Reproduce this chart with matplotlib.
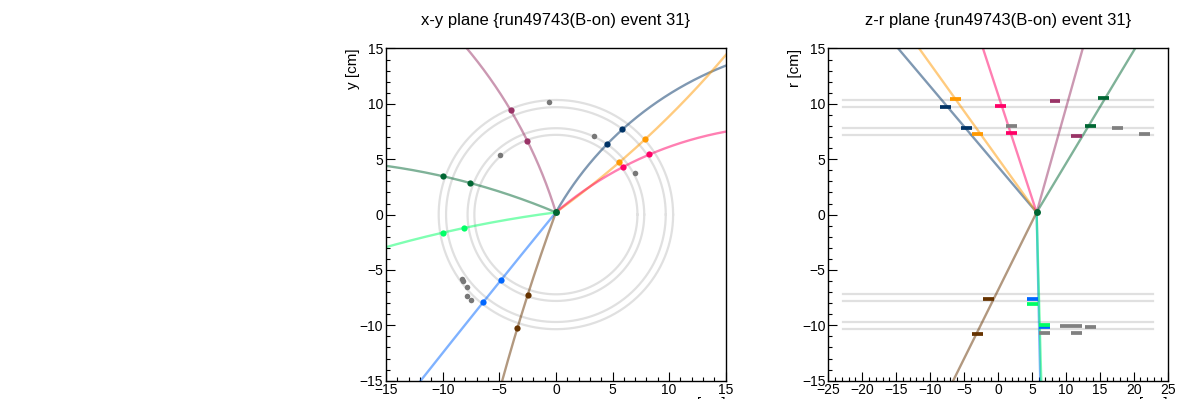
import numpy as np
import matplotlib
matplotlib.use("Agg")
import matplotlib.pyplot as plt

plt.rcParams['font.family'] = ['Liberation Sans', 'DejaVu Sans']

# Event info
title_xy = "x-y plane {run49743(B-on) event 31}"
title_zr = "z-r plane {run49743(B-on) event 31}"

# Primary vertex
vtx_x, vtx_y = 0.0, 0.2
vtx_z, vtx_r = 5.7, 0.2

# Detector layer radii [cm] and half length in z
layer_r = [7.2, 7.8, 9.7, 10.35]
layer_halfz = 22.8

# Tracks: colour, x-y helix (initial angle deg, curvature 1/cm), z-r slope dz/dr
track_color = ['#003366', '#ff9900', '#ff0066', '#993366',
               '#006633', '#0066ff', '#00ff66', '#663300']
track_phi0 = [61.1, 36.5, 41.2, 106.7, 156.8, 231.4, 187.6, 250.4]
track_curv = [-0.0336, 0.0117, -0.0316, 0.0233, 0.0169, 0.0008, 0.0096, 0.0050]
track_dzdr = [-1.378, -1.169, -0.534, 0.459, 0.98, -0.035, -0.045, 0.809]
track_side = [1, 1, 1, 1, 1, -1, -1, -1]

# Associated hits in x-y
hit_x = [[4.52, 5.87], [5.61, 7.88], [5.96, 8.20], [-2.52, -3.93],
         [-7.55, -9.94], [-4.87, -6.40], [-8.08, -9.94], [-2.48, -3.40]]
hit_y = [[6.37, 7.70], [4.72, 6.80], [4.32, 5.44], [6.67, 9.44],
         [2.85, 3.46], [-5.95, -7.92], [-1.21, -1.63], [-7.23, -10.23]]

# Associated hits in z-r
hit_z = [[-7.7, -4.6], [-6.2, -3.0], [0.44, 2.0], [8.4, 11.6],
         [15.6, 13.65], [5.15, 6.9], [5.15, 6.9], [-1.43, -3.0]]
hit_r = [[9.72, 7.86], [10.47, 7.31], [9.84, 7.40], [10.24, 7.10],
         [10.5, 8.04], [-7.63, -10.19], [-8.12, -9.95], [-7.63, -10.76]]

# Unassociated hits
noise_x = [-0.63, 3.35, -4.93, 7.02, -8.29, -8.17, -7.82, -7.87, -7.49]
noise_y = [10.16, 7.07, 5.35, 3.75, -5.84, -6.02, -6.53, -7.37, -7.73]
noise_z = [2.0, 17.6, 21.65, 6.9, 10.0, 11.6, 13.65, 11.6]
noise_r = [8.0, 7.86, 7.26, -10.7, -10.04, -10.04, -10.16, -10.7]

fig = plt.figure(figsize=(11.78, 3.99), dpi=100)
ax1 = fig.add_axes([0.3277, 0.0459, 0.2884, 0.8326])
ax2 = fig.add_axes([0.7031, 0.0459, 0.2881, 0.8326])

# ---- x-y plane ----
t = np.linspace(0, 2 * np.pi, 400)
for rr in layer_r:
    ax1.plot(rr * np.cos(t), rr * np.sin(t), color='#e0e0e0', lw=1.6, zorder=1)

s = np.linspace(0, 25, 500)
for c, p0, k in zip(track_color, track_phi0, track_curv):
    phi = np.radians(p0)
    x = vtx_x + (np.sin(phi + k * s) - np.sin(phi)) / k
    y = vtx_y - (np.cos(phi + k * s) - np.cos(phi)) / k
    ax1.plot(x, y, color=c, alpha=0.5, lw=1.7, zorder=2)

ax1.plot(noise_x, noise_y, 'o', color='#777777', ms=4, mec='none', zorder=3)
for c, hx, hy in zip(track_color, hit_x, hit_y):
    ax1.plot(hx, hy, 'o', color=c, ms=4.5, mec='none', zorder=4)
ax1.plot(vtx_x, vtx_y, 'o', color='#006633', ms=5, mec='none', zorder=5)

ax1.set_xlim(-15, 15)
ax1.set_ylim(-15, 15)

# ---- z-r plane ----
for rr in layer_r:
    for sgn in (1, -1):
        ax2.plot([-layer_halfz, layer_halfz], [sgn * rr, sgn * rr],
                 color='#e0e0e0', lw=1.6, zorder=1)

for c, m, side in zip(track_color, track_dzdr, track_side):
    r_end = side * 16
    z_end = vtx_z + m * (r_end - vtx_r)
    ax2.plot([vtx_z, z_end], [vtx_r, r_end], color=c, alpha=0.5, lw=1.7, zorder=2)

hw = 0.8
for zz, rr in zip(noise_z, noise_r):
    ax2.plot([zz - hw, zz + hw], [rr, rr], color='#808080', lw=2.7,
             solid_capstyle='butt', zorder=3)
for c, hz, hr in zip(track_color, hit_z, hit_r):
    for zz, rr in zip(hz, hr):
        ax2.plot([zz - hw, zz + hw], [rr, rr], color=c, lw=2.7,
                 solid_capstyle='butt', zorder=4)
ax2.plot(vtx_z, vtx_r, 'o', color='#006633', ms=5, mec='none', zorder=5)

ax2.set_xlim(-25, 25)
ax2.set_ylim(-15, 15)

# ROOT-like frame style
for ax, title, xl, yl in [(ax1, title_xy, 'x [cm]', 'y [cm]'),
                          (ax2, title_zr, 'z [cm]', 'r [cm]')]:
    ax.set_xticks(np.arange(ax.get_xlim()[0], ax.get_xlim()[1] + 1, 5))
    ax.set_yticks(np.arange(-15, 16, 5))
    ax.xaxis.set_minor_locator(matplotlib.ticker.MultipleLocator(1))
    ax.yaxis.set_minor_locator(matplotlib.ticker.MultipleLocator(1))
    ax.tick_params(which='both', direction='in', top=False, right=False,
                   width=0.8, labelsize=10, pad=2)
    ax.tick_params(which='major', length=6.5)
    ax.tick_params(which='minor', length=3.2)
    for sp in ax.spines.values():
        sp.set_linewidth(1.0)
    ax.text(0.5, 1.083, title, transform=ax.transAxes, ha='center',
            va='center', fontsize=12)
    ax.text(-0.098, 1.0, yl, transform=ax.transAxes, rotation=90,
            ha='center', va='top', fontsize=11)
    ax.text(1.0, -0.049, xl, transform=ax.transAxes, ha='right',
            va='top', fontsize=11)

fig.savefig('out.png', dpi=100)
